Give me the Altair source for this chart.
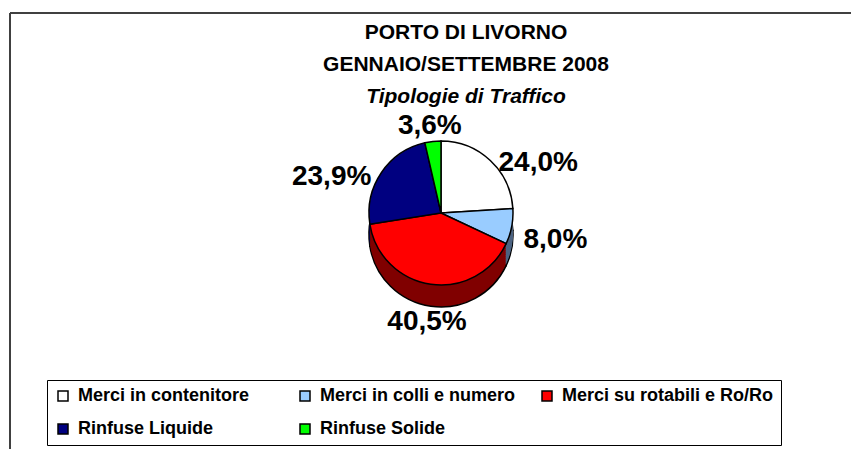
import altair as alt
import pandas as pd

# ---- data ----
categories = ["Merci in contenitore", "Merci in colli e numero",
              "Merci su rotabili e Ro/Ro", "Rinfuse Liquide", "Rinfuse Solide"]
shares = [24.0, 8.0, 40.5, 23.9, 3.6]
title_lines = ["PORTO DI LIVORNO", "GENNAIO/SETTEMBRE 2008", "Tipologie di Traffico"]

top_colors = ["#FFFFFF", "#99CCFF", "#FF0000", "#000080", "#00FF00"]
side_colors = ["#7F7F7F", "#4D6482", "#800000", "#000040", "#008000"]

labels = [f"{v:.1f}".replace(".", ",") + "%" for v in shares]
df = pd.DataFrame({"cat": categories, "share": shares, "label": labels,
                   "idx": list(range(len(categories)))})

W, H = 843, 441
CX, CY = 433, 205
R = 72
DEPTH = 22
FONT = "Liberation Sans"

theta = alt.Theta("share:Q", stack=True)
order = alt.Order("idx:Q", sort="ascending")

layers = []

# border (top and left edges of the chart area)
frame = pd.DataFrame({"a": [0]})
layers.append(alt.Chart(frame).mark_rule(color="#404040", strokeWidth=2).encode(
    x=alt.value(2), x2=alt.value(W), y=alt.value(5)))
layers.append(alt.Chart(frame).mark_rule(color="#404040", strokeWidth=2).encode(
    x=alt.value(2), y=alt.value(5), y2=alt.value(H)))

# side of the pie (pseudo 3D depth)
side_scale = alt.Scale(domain=categories, range=side_colors)
for k in range(DEPTH, 0, -2):
    kw = dict(radius=R, x=CX, y=CY + k)
    if k == DEPTH:
        kw.update(stroke="black", strokeWidth=1.5)
    else:
        kw.update(strokeWidth=0)
    layers.append(alt.Chart(df).mark_arc(**kw).encode(
        theta=theta, order=order,
        color=alt.Color("cat:N", scale=side_scale, legend=None)))

# top face of the pie
legend = alt.Legend(
    orient="none", legendX=39, legendY=372, direction="horizontal", columns=3,
    title=None, symbolType="square", symbolSize=100, symbolStrokeColor="black",
    symbolStrokeWidth=1.5, labelFont=FONT, labelFontSize=18, labelFontWeight="bold",
    labelColor="black", labelLimit=400, labelOffset=6, strokeColor="black",
    fillColor="white", padding=7, columnPadding=6, rowPadding=15, gridAlign="all")
layers.append(alt.Chart(df).mark_arc(radius=R, x=CX, y=CY, stroke="black",
                                     strokeWidth=1.5).encode(
    theta=theta, order=order,
    color=alt.Color("cat:N", scale=alt.Scale(domain=categories, range=top_colors),
                    sort=categories, legend=legend)))

# percentage labels: placed around the pie, aligned away from it
lab_base = alt.Chart(df).transform_window(
    cum="sum(share)", sort=[alt.SortField("idx")]
).transform_calculate(
    mid="datum.cum - datum.share / 2"
).transform_calculate(
    side="(datum.mid < 5 || datum.mid > 95 || (datum.mid > 45 && datum.mid < 55)) ? 'c' : (datum.mid < 50 ? 'l' : 'r')"
)
for s, align, rad in [("l", "left", R + 12), ("r", "right", R + 12), ("c", "center", R + 27)]:
    layers.append(lab_base.mark_text(
        radius=rad, x=CX, y=CY + DEPTH / 2, font=FONT, fontSize=28, fontWeight="bold",
        color="black", baseline="middle", align=align).encode(
        theta=theta, order=order,
        text=alt.condition(f"datum.side == '{s}'", "label:N", alt.value(""))))

# title lines
tdf = pd.DataFrame({"t": title_lines})
for i, line in enumerate(title_lines):
    layers.append(alt.Chart(tdf).transform_filter(alt.datum.t == line).mark_text(
        font=FONT, fontSize=21, fontWeight="bold",
        fontStyle=("italic" if i == 2 else "normal"), color="black",
        baseline="middle", align="center").encode(
        text="t:N", x=alt.value(458), y=alt.value(25 + 32 * i)))

chart = alt.layer(*layers).resolve_scale(color="independent").properties(
    width=W, height=H, padding=0,
    autosize=alt.AutoSizeParams(type="none")
).configure_view(strokeWidth=0)

chart.save("out.html", embed_options={"renderer": "svg", "actions": False})
